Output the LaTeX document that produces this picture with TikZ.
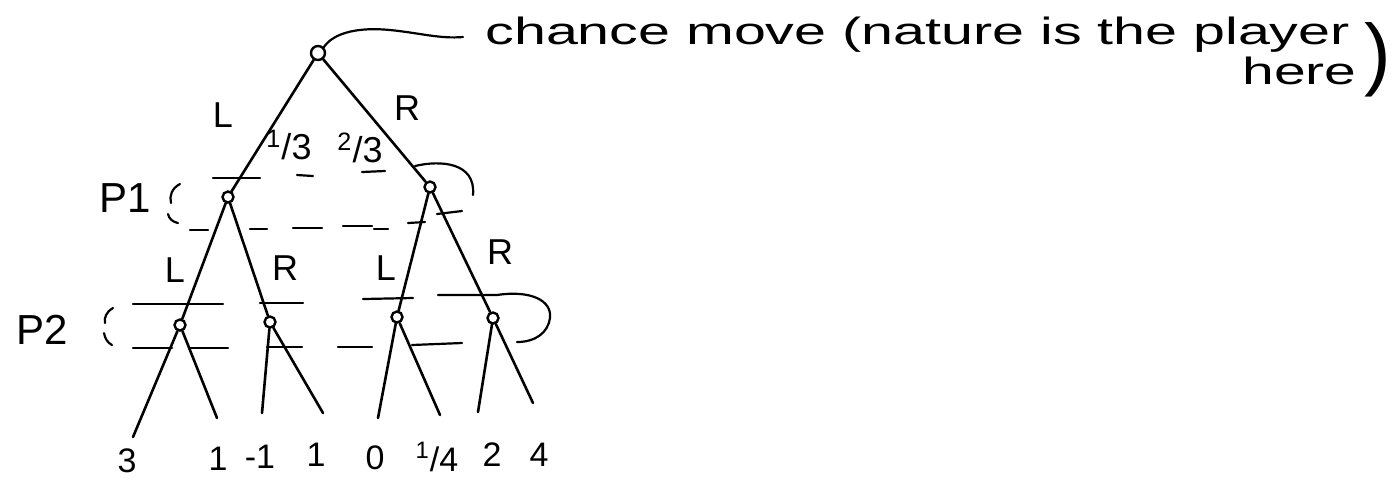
\documentclass[tikz,border=0pt]{standalone}
\usepackage{fontspec}
\usepackage{graphicx}
\setmainfont{Liberation Sans}
\begin{document}
\begin{tikzpicture}[x=0.5pt,y=-0.5pt,
  edge/.style={line width=1.3pt, line cap=round},
  iset/.style={line width=1.1pt, line cap=round},
  dec/.style={circle, draw, line width=1.2pt, inner sep=0pt, minimum size=5.5pt},
  lbl/.style={inner sep=0pt, font=\fontsize{18}{20}\selectfont},
  plab/.style={inner sep=0pt, font=\fontsize{21}{24}\selectfont},
  num/.style={inner sep=0pt, font=\fontsize{17}{20}\selectfont},
  ann/.style={inner sep=0pt, font=\fontsize{19}{22}\selectfont}]
\useasboundingbox (0,0) rectangle (1396,479);

% decision nodes
\node[dec, minimum size=7pt] (root) at (318,53) {};
\node[dec] (a) at (228,197) {};
\node[dec] (b) at (430,187) {};
\node[dec] (c1) at (180,325) {};
\node[dec] (c2) at (270,322) {};
\node[dec] (c3) at (397,317) {};
\node[dec] (c4) at (493,318) {};

% leaves
\coordinate (t1) at (133,437);
\coordinate (t2) at (217,418);
\coordinate (t3) at (262,413);
\coordinate (t4) at (323,413);
\coordinate (t5) at (378,418);
\coordinate (t6) at (440,415);
\coordinate (t7) at (478,412);
\coordinate (t8) at (533,403);

% edges
\draw[edge] (root) -- (a);
\draw[edge] (root) -- (b);
\draw[edge] (a) -- (c1);
\draw[edge] (a) -- (c2);
\draw[edge] (b) -- (c3);
\draw[edge] (b) -- (c4);
\draw[edge] (c1) -- (t1);
\draw[edge] (c1) -- (t2);
\draw[edge] (c2) -- (t3);
\draw[edge] (c2) -- (t4);
\draw[edge] (c3) -- (t5);
\draw[edge] (c3) -- (t6);
\draw[edge] (c4) -- (t7);
\draw[edge] (c4) -- (t8);

% edge labels
\node[lbl] (lL) at (223,115) {L};
\node[lbl] (lR) at (407,108) {R};
\node[lbl] (p13) at (289,145) {\textsuperscript{1}/3};
\node[lbl] (p23) at (360,148) {\textsuperscript{2}/3};
\node[lbl] (aL) at (175,270) {L};
\node[lbl] (aR) at (285,268) {R};
\node[lbl] (bL) at (386,268) {L};
\node[lbl] (bR) at (500,252) {R};

% player labels
\node[plab] (P1) at (125,198) {P1};
\node[plab] (P2) at (42,330) {P2};

% payoffs
\node[num] (v1) at (127,461) {3};
\node[num] (v2) at (218,459) {1};
\node[num] (v3) at (260,457) {-1};
\node[num] (v4) at (316,455) {1};
\node[num] (v5) at (375,458) {0};
\node[num] (v6) at (437,457) {\textsuperscript{1}/4};
\node[num] (v7) at (492,455) {2};
\node[num] (v8) at (539,455) {4};

% information set P1
\draw[iset] (180,184) .. controls (172,188) and (169,196) .. (171,203);
\draw[iset] (168,214) .. controls (169,219) and (173,222) .. (178,223);
\draw[iset] (213,178) -- (260,178);
\draw[iset] (297,175) -- (313,176);
\draw[iset] (362,172) -- (385,171);
\draw[iset] (415,166) .. controls (440,160) and (476,162) .. (473,195);
\draw[iset] (190,230) -- (208,230);
\draw[iset] (250,229) -- (267,229);
\draw[iset] (293,228) -- (322,228);
\draw[iset] (343,226) -- (372,226);
\draw[iset] (374,229) -- (388,229);
\draw[iset] (408,223) -- (425,222);
\draw[iset] (437,214) -- (462,211);

% information set P2
\draw[iset] (113,308) .. controls (106,312) and (104,318) .. (105,323);
\draw[iset] (104,333) .. controls (105,339) and (108,343) .. (112,345);
\draw[iset] (133,304) -- (223,304);
\draw[iset] (260,303) -- (303,303);
\draw[iset] (363,299) -- (413,298);
\draw[iset] (438,295) -- (497,295) .. controls (530,290) and (552,300) .. (550,318) .. controls (548,333) and (535,342) .. (517,342);
\draw[iset] (133,348) -- (172,348);
\draw[iset] (190,348) -- (228,348);
\draw[iset] (267,347) -- (302,347);
\draw[iset] (338,347) -- (372,347);
\draw[iset] (412,345) -- (462,343);

% annotation
\node[ann, anchor=base west] (note) at (485,44) {\scalebox{1.51}[1]{chance move (nature is the player}};
\node[ann, anchor=base east] (here) at (1357,84) {\scalebox{1.5}[1]{here}};
\node[inner sep=0pt, font=\fontsize{40}{48}\selectfont] (rp) at (1378,60) {)};
\coordinate (cm) at (463,37);
\draw[iset] (root.north east) .. controls (334,32) and (360,27) .. (390,30) .. controls (420,33) and (440,39) .. (cm);
\end{tikzpicture}
\end{document}
